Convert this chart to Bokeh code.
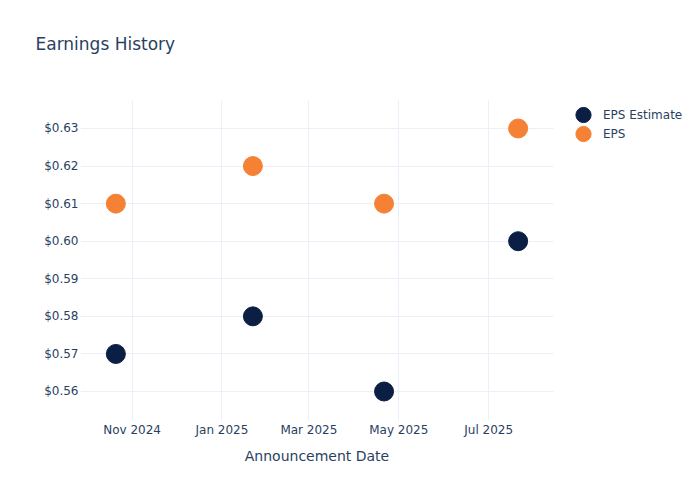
from datetime import datetime
from bokeh.plotting import figure
from bokeh.models import (ColumnDataSource, FixedTicker, NumeralTickFormatter,
                          DatetimeTickFormatter, Range1d, Legend, LegendItem, Title)
from bokeh.embed import file_html
from bokeh.resources import INLINE

dates = ["2024-10-21", "2025-01-22", "2025-04-21", "2025-07-21"]
eps_estimate = [0.57, 0.58, 0.56, 0.60]
eps_actual = [0.61, 0.62, 0.61, 0.63]
y_ticks = [0.56, 0.57, 0.58, 0.59, 0.60, 0.61, 0.62, 0.63]
x_ticks = ["2024-11-01", "2025-01-01", "2025-03-01", "2025-05-01", "2025-07-01"]

def ms(s):
    return datetime.strptime(s, "%Y-%m-%d").timestamp() * 1000

xs = [datetime.strptime(d, "%Y-%m-%d") for d in dates]
src = ColumnDataSource(dict(x=xs, est=eps_estimate, act=eps_actual))

TEXT = "#2a3f5f"
GRID = "#ebf0f8"
FONT = "DejaVu Sans"

p = figure(width=692, height=492, output_backend="svg", toolbar_location=None,
           x_axis_type="datetime",
           x_range=Range1d(ms("2024-09-27"), ms("2025-08-14")),
           y_range=Range1d(0.55228, 0.63745),
           min_border_left=80, min_border_right=139, min_border_top=100, min_border_bottom=72)
p.frame_width = 473
p.frame_height = 320
p.outline_line_color = None
p.background_fill_color = "white"

r1 = p.ellipse("x", "est", source=src, width=19, height=19,
               width_units="screen", height_units="screen",
               fill_color="#0b1f44", line_color="#0b1f44")
r2 = p.ellipse("x", "act", source=src, width=19, height=19,
               width_units="screen", height_units="screen",
               fill_color="#f58134", line_color="#f58134")

p.yaxis.ticker = FixedTicker(ticks=y_ticks)
p.yaxis.formatter = NumeralTickFormatter(format="$0.00")
p.xaxis.ticker = FixedTicker(ticks=[ms(t) for t in x_ticks])
p.xaxis.formatter = DatetimeTickFormatter(months="%b %Y", days="%b %Y", years="%b %Y")
p.xaxis.axis_label = "Announcement Date"
for ax in (p.xaxis, p.yaxis):
    ax.axis_line_color = None
    ax.major_tick_line_color = None
    ax.minor_tick_line_color = None
    ax.major_tick_out = 0
    ax.major_tick_in = 0
    ax.minor_tick_out = 0
    ax.major_label_text_color = TEXT
    ax.major_label_text_font = FONT
    ax.major_label_text_font_size = "12px"
p.xaxis.axis_label_text_color = TEXT
p.xaxis.axis_label_text_font = FONT
p.xaxis.axis_label_text_font_size = "14px"
p.xaxis.axis_label_text_font_style = "normal"
p.xaxis.major_label_standoff = 2
p.xaxis.axis_label_standoff = 8
p.yaxis.major_label_standoff = 2
p.xgrid.grid_line_color = GRID
p.ygrid.grid_line_color = GRID
p.xgrid.ticker = p.xaxis.ticker
p.ygrid.ticker = p.yaxis.ticker

p.title.text = "Earnings History"
p.title.text_font = FONT
p.title.text_font_size = "17px"
p.title.text_font_style = "normal"
p.title.text_color = TEXT
p.title.offset = -45
p.title.standoff = 10

spacer = Title(text=" ", text_font=FONT, text_font_size="17px", standoff=20)
p.add_layout(spacer, "above")

legend = Legend(items=[LegendItem(label="EPS Estimate", renderers=[r1]),
                       LegendItem(label="EPS", renderers=[r2])],
                location=(10, 277))
legend.border_line_color = None
legend.background_fill_alpha = 0
legend.label_text_font = FONT
legend.label_text_font_size = "12px"
legend.label_text_color = TEXT
legend.glyph_width = 40
legend.glyph_height = 19
legend.label_height = 19
legend.label_standoff = 0
legend.spacing = 0
legend.padding = 0
legend.margin = 0
p.add_layout(legend, "right")

open("out.html", "w").write(file_html(p, INLINE))
